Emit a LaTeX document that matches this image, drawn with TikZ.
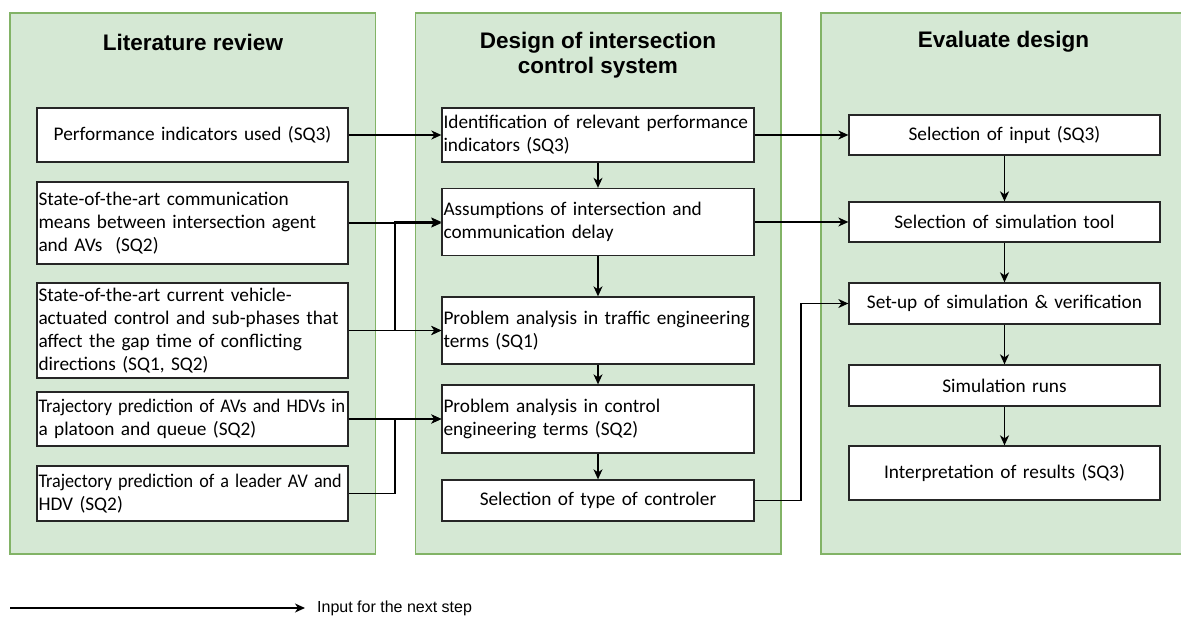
\documentclass[tikz,border=0pt]{standalone}
\usepackage{fontspec}
\usepackage{graphicx}
\setmainfont{Liberation Sans}
\newfontfamily\boxfont{Carlito}[WordSpace=0.9]
\usetikzlibrary{arrows.meta,calc}
\definecolor{pfill}{HTML}{D5E8D4}
\definecolor{pdraw}{HTML}{82B366}
\tikzset{
  panel/.style={fill=pfill,draw=pdraw,line width=1.3pt},
  ptitle/.style={font=\fontsize{22.5}{25}\selectfont\bfseries,align=center,inner sep=0pt},
  box/.style={draw=black!85,fill=white,line width=1.3pt,inner xsep=1.5pt,inner ysep=0pt,
    font=\boxfont\fontsize{19.3}{23}\selectfont},
  lbox/.style={box,align=left},
  cbox/.style={box,align=center},
  arr/.style={line width=1.3pt,-{Stealth[length=10pt,width=9pt,inset=3pt]}},
}
\begin{document}
\begin{tikzpicture}[x=1pt,y=-1pt]
\clip (0,0) rectangle (1181,617);
\fill[white] (0,0) rectangle (1181,617);
% panels
\draw[panel] (10,13) rectangle (375.5,554);
\draw[panel] (415.5,13) rectangle (781,554);
\draw[panel] (821,13) rectangle (1186,554);
\node[ptitle] (t1) at (193,42) {Literature review};
\node[ptitle] (t2) at (598,55) {Design of intersection\\control system};
\node[ptitle] (t3) at (1003.5,42) {Evaluate design};
% left boxes
\node[cbox,minimum width=311,minimum height=54,text width=308] (L1) at (192.5,135) {Performance indicators used (SQ3)};
\node[lbox,minimum width=311,minimum height=82,text width=308] (L2) at (192.5,223) {State-of-the-art communication\\means between intersection agent\\and AVs\ \ (SQ2)};
\node[lbox,minimum width=311,minimum height=95,text width=308] (L3) at (192.5,330.5) {State-of-the-art current vehicle-\\\mbox{actuated control and sub-phases that}\\affect the gap time of conflicting\\directions (SQ1, SQ2)};
\node[lbox,minimum width=311,minimum height=54,text width=308] (L4) at (192.5,419) {\scalebox{0.94}[1]{Trajectory prediction of AVs and HDVs in}\\a platoon and queue (SQ2)};
\node[lbox,minimum width=311,minimum height=55,text width=308] (L5) at (192.5,493.5) {\scalebox{0.94}[1]{Trajectory prediction of a leader AV and}\\HDV (SQ2)};
% middle boxes
\node[lbox,minimum width=312,minimum height=54,text width=309] (M1) at (598,135) {\mbox{Identification of relevant performance}\\indicators (SQ3)};
\node[lbox,minimum width=312,minimum height=67,text width=309] (M2) at (598,222) {Assumptions of intersection and\\communication delay};
\node[lbox,minimum width=312,minimum height=67,text width=309] (M3) at (598,330.5) {\mbox{Problem analysis in traffic engineering}\\terms (SQ1)};
\node[lbox,minimum width=312,minimum height=68,text width=309] (M4) at (598,419) {Problem analysis in control\\engineering terms (SQ2)};
\node[cbox,minimum width=312,minimum height=41,text width=309] (M5) at (598,500.5) {Selection of type of controler};
% right boxes
\node[cbox,minimum width=311,minimum height=40,text width=308] (R1) at (1004.5,135) {Selection of input (SQ3)};
\node[cbox,minimum width=311,minimum height=40,text width=308] (R2) at (1004.5,222) {Selection of simulation tool};
\node[cbox,minimum width=311,minimum height=41,text width=308] (R3) at (1004.5,303.5) {Set-up of simulation \& verification};
\node[cbox,minimum width=311,minimum height=41,text width=308] (R4) at (1004.5,385.5) {Simulation runs};
\node[cbox,minimum width=311,minimum height=54,text width=308] (R5) at (1004.5,473) {Interpretation of results (SQ3)};
% junction coordinates
\coordinate (j) at (395,0);
\coordinate (k) at (801,0);
% left -> middle
\draw[arr] (L1.east) -- (L1.east -| M1.west);
\draw[arr] (L2.east) -- (L2.east -| M2.west);
\draw[arr] (L2.east) -- (L2.east -| j) |- (M3.west);
\draw[arr] (L3.east) -- (L3.east -| M3.west);
\draw[arr] (L3.east) -- (L3.east -| j) |- (M2.west);
\draw[arr] (L4.east) -- (L4.east -| M4.west);
\draw[arr] (L5.east) -- (L5.east -| j) |- (M4.west);
% middle chain
\draw[arr] (M1) -- (M2);
\draw[arr] (M2) -- (M3);
\draw[arr] (M3) -- (M4);
\draw[arr] (M4) -- (M5);
% middle -> right
\draw[arr] (M1.east) -- (M1.east -| R1.west);
\draw[arr] (M2.east) -- (M2.east -| R2.west);
\draw[arr] (M5.east) -- (M5.east -| k) |- (R3.west);
% right chain
\draw[arr] (R1) -- (R2);
\draw[arr] (R2) -- (R3);
\draw[arr] (R3) -- (R4);
\draw[arr] (R4) -- (R5);
% legend
\coordinate (lg) at (10,608);
\node[anchor=west,inner xsep=12pt,inner ysep=0pt,font=\fontsize{16}{18}\selectfont] (lgt) at (305,608) {Input for the next step};
\draw[arr] (lg) -- (lgt.west);
\end{tikzpicture}
\end{document}
